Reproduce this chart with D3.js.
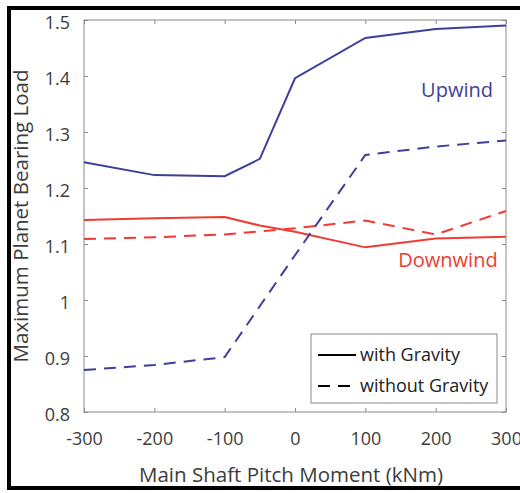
<!DOCTYPE html>
<html>
<head>
<meta charset="utf-8">
<script src="https://d3js.org/d3.v7.min.js"></script>
<style>
  body {margin:0; background:#fff;}
  text {font-family:'Open Sans',sans-serif; fill:#3c3c3c;}
  .axis text {font-size:18px;}
  .axis line {stroke:#8a8a8a;}
</style>
</head>
<body>
<svg id="chart" width="520" height="493"></svg>
<script>
// values
var xUp = [-300,-200,-100,-50,0,100,200,300];
var upGravity = [1.246,1.223,1.221,1.252,1.396,1.468,1.484,1.490];
var xUpNo = [-300,-200,-100,0,100,200,300];
var upNoGravity = [0.875,0.884,0.898,1.080,1.259,1.274,1.285];
var xDown = [-300,-200,-100,-50,0,100,200,300];
var downGravity = [1.143,1.146,1.148,1.133,1.122,1.094,1.110,1.113];
var xDownNo = [-300,-200,-100,0,100,200,300];
var downNoGravity = [1.109,1.112,1.117,1.128,1.142,1.117,1.159];
var xTicks = [-300,-200,-100,0,100,200,300];
var yTicks = [0.8,0.9,1,1.1,1.2,1.3,1.4,1.5];

var blue = '#3f3f9b', red = '#ef3b33';

var svg = d3.select('#chart');
var L = 84, R = 506, T = 20, B = 412;
var x = d3.scaleLinear().domain([-300,300]).range([L,R]);
var y = d3.scaleLinear().domain([0.8,1.5]).range([B,T]);

// outer frame (right side is cut off in the picture)
svg.append('path').attr('d','M530,8 H9 V488 H530')
   .attr('fill','none').attr('stroke','#000').attr('stroke-width',4);

// axes with inward ticks, mirrored on top and right
var fmt = function(d){ return String(d); };
svg.append('g').attr('class','axis').attr('transform','translate(0,'+B+')')
   .call(d3.axisBottom(x).tickValues(xTicks).tickSize(-4).tickPadding(20).tickFormat(fmt))
   .call(function(g){ g.select('.domain').remove(); });
svg.append('g').attr('class','axis').attr('transform','translate('+L+',0)')
   .call(d3.axisLeft(y).tickValues(yTicks).tickSize(-4).tickPadding(14).tickFormat(fmt))
   .call(function(g){ g.select('.domain').remove();
                      g.selectAll('text').attr('dy','0.45em'); });
svg.append('g').attr('class','axis').attr('transform','translate(0,'+T+')')
   .call(d3.axisTop(x).tickValues(xTicks).tickSize(-4).tickFormat(''))
   .call(function(g){ g.select('.domain').remove(); });
svg.append('g').attr('class','axis').attr('transform','translate('+R+',0)')
   .call(d3.axisRight(y).tickValues(yTicks).tickSize(-4).tickFormat(''))
   .call(function(g){ g.select('.domain').remove(); });
svg.append('rect').attr('x',L).attr('y',T).attr('width',R-L).attr('height',B-T)
   .attr('fill','none').attr('stroke','#8a8a8a').attr('stroke-width',1);

// series
var line = d3.line().x(function(d){ return x(d[0]); }).y(function(d){ return y(d[1]); });
function series(xs, ys, color, dash) {
  svg.append('path').datum(d3.zip(xs, ys)).attr('d', line)
     .attr('fill','none').attr('stroke',color).attr('stroke-width',2)
     .attr('stroke-dasharray', dash ? '12,8' : null);
}
series(xDown, downGravity, red, false);
series(xDownNo, downNoGravity, red, true);
series(xUp, upGravity, blue, false);
series(xUpNo, upNoGravity, blue, true);

// labels
svg.append('text').attr('x',457).attr('y',97).attr('text-anchor','middle')
   .style('font-size','20px').style('fill',blue).text('Upwind');
svg.append('text').attr('x',448).attr('y',267).attr('text-anchor','middle')
   .style('font-size','20px').style('fill',red).text('Downwind');
svg.append('text').attr('x',(L+R)/2 - 4).attr('y',482).attr('text-anchor','middle')
   .style('font-size','20.5px').text('Main Shaft Pitch Moment (kNm)');
svg.append('text').attr('transform','translate(28,'+((T+B)/2)+') rotate(-90)')
   .attr('text-anchor','middle').style('font-size','20.5px')
   .text('Maximum Planet Bearing Load');

// legend
var lg = svg.append('g');
lg.append('rect').attr('x',311).attr('y',334).attr('width',186).attr('height',69)
  .attr('fill','#fff').attr('stroke','#8a8a8a').attr('stroke-width',1);
var items = [['with Gravity',null,355],['without Gravity','12,8',386]];
items.forEach(function(it){
  lg.append('line').attr('x1',318).attr('x2',356).attr('y1',it[2]).attr('y2',it[2])
    .attr('stroke','#000').attr('stroke-width',2).attr('stroke-dasharray',it[1]);
  lg.append('text').attr('x',360).attr('y',it[2]).attr('dy','0.35em')
    .style('font-size','18px').style('fill','#222').text(it[0]);
});
</script>
</body>
</html>
